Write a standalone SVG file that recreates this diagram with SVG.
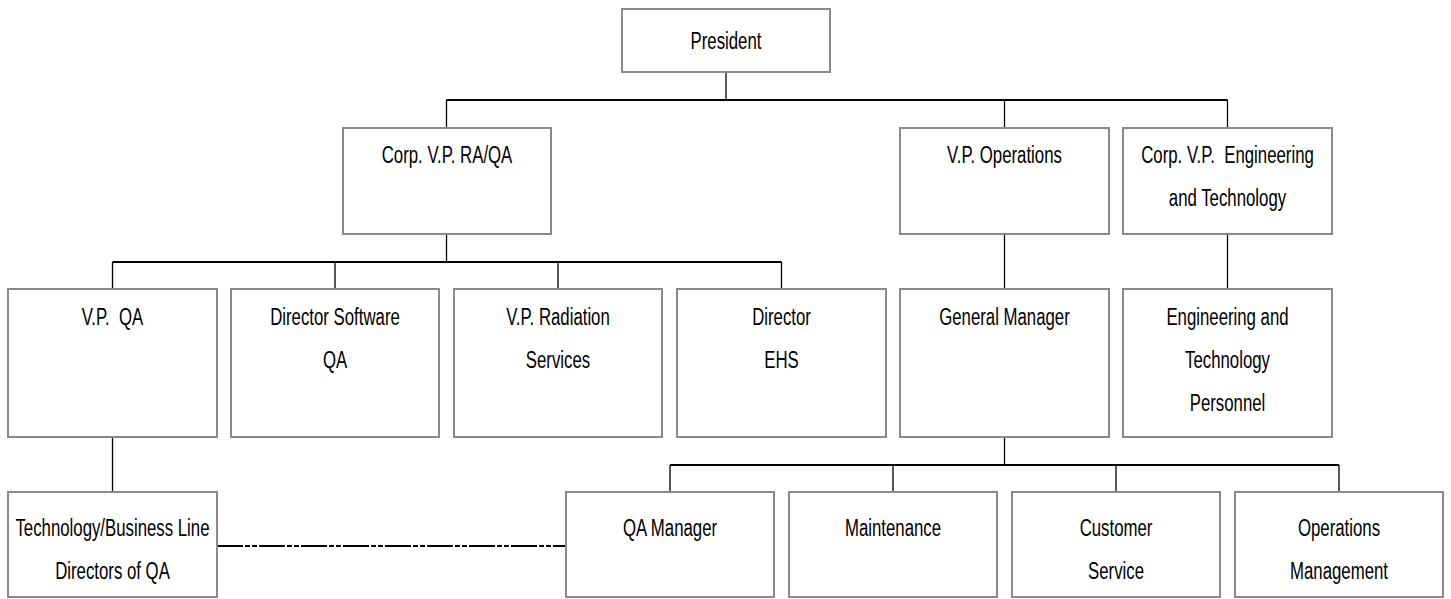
<svg xmlns="http://www.w3.org/2000/svg" width="1451" height="599" viewBox="0 0 1451 599">
<style>
.box{fill:#fff;stroke:#8a8a8a;stroke-width:2}
.t{font-family:"Liberation Sans",Arial,sans-serif;font-size:23px;fill:#000;text-anchor:middle}
.bus{stroke:#000;stroke-width:2;fill:none}
.v{stroke:#000;stroke-width:1.3;fill:none}
.dash{stroke:#000;stroke-width:2;fill:none;stroke-dasharray:26 2 5 2 5 2}
</style>
<rect width="1451" height="599" fill="#fff"/>
<g id="connectors">
<path class="v" d="M726 72V100"/>
<path class="bus" d="M446.5 100H1227.5"/>
<path class="v" d="M446.5 100V128M1004.5 100V128M1227.5 100V128"/>
<path class="v" d="M446.5 234V262"/>
<path class="bus" d="M112.5 262H781.5"/>
<path class="v" d="M112.5 262V289M335 262V289M558 262V289M781.5 262V289"/>
<path class="v" d="M1004.5 234V289M1227.5 234V289"/>
<path class="v" d="M1004.5 437V465"/>
<path class="bus" d="M670 465H1339"/>
<path class="v" d="M670 465V492M893 465V492M1116 465V492M1339 465V492"/>
<path class="v" d="M112.5 437V492"/>
<path class="dash" d="M217 546H566"/>
</g>
<g id="president"><rect class="box" x="622" y="9" width="208" height="63"/>
<text class="t" transform="translate(726 49) scale(0.73 1)">President</text></g>
<g id="corp-vp-raqa"><rect class="box" x="343" y="128" width="208" height="106"/>
<text class="t" transform="translate(447 163) scale(0.73 1)">Corp. V.P. RA/QA</text></g>
<g id="vp-operations"><rect class="box" x="900" y="128" width="209" height="106"/>
<text class="t" transform="translate(1004.5 163) scale(0.73 1)">V.P. Operations</text></g>
<g id="corp-vp-eng"><rect class="box" x="1123" y="128" width="209" height="106"/>
<text class="t" xml:space="preserve" transform="translate(1227.5 163) scale(0.73 1)">Corp. V.P.  Engineering</text>
<text class="t" transform="translate(1227.5 206) scale(0.73 1)">and Technology</text></g>
<g id="vp-qa"><rect class="box" x="8" y="289" width="209" height="148"/>
<text class="t" xml:space="preserve" transform="translate(112.5 325) scale(0.73 1)">V.P.  QA</text></g>
<g id="director-software-qa"><rect class="box" x="231" y="289" width="208" height="148"/>
<text class="t" transform="translate(335 325) scale(0.73 1)">Director Software</text>
<text class="t" transform="translate(335 368) scale(0.73 1)">QA</text></g>
<g id="vp-radiation"><rect class="box" x="454" y="289" width="208" height="148"/>
<text class="t" transform="translate(558 325) scale(0.73 1)">V.P. Radiation</text>
<text class="t" transform="translate(558 368) scale(0.73 1)">Services</text></g>
<g id="director-ehs"><rect class="box" x="677" y="289" width="209" height="148"/>
<text class="t" transform="translate(781.5 325) scale(0.73 1)">Director</text>
<text class="t" transform="translate(781.5 368) scale(0.73 1)">EHS</text></g>
<g id="general-manager"><rect class="box" x="900" y="289" width="209" height="148"/>
<text class="t" transform="translate(1004.5 325) scale(0.73 1)">General Manager</text></g>
<g id="eng-tech-personnel"><rect class="box" x="1123" y="289" width="209" height="148"/>
<text class="t" transform="translate(1227.5 325) scale(0.73 1)">Engineering and</text>
<text class="t" transform="translate(1227.5 368) scale(0.73 1)">Technology</text>
<text class="t" transform="translate(1227.5 411) scale(0.73 1)">Personnel</text></g>
<g id="tech-business-directors"><rect class="box" x="8" y="492" width="209" height="105"/>
<text class="t" transform="translate(112.5 536) scale(0.73 1)">Technology/Business Line</text>
<text class="t" transform="translate(112.5 579) scale(0.73 1)">Directors of QA</text></g>
<g id="qa-manager"><rect class="box" x="566" y="492" width="208" height="105"/>
<text class="t" transform="translate(670 536) scale(0.73 1)">QA Manager</text></g>
<g id="maintenance"><rect class="box" x="789" y="492" width="208" height="105"/>
<text class="t" transform="translate(893 536) scale(0.73 1)">Maintenance</text></g>
<g id="customer-service"><rect class="box" x="1012" y="492" width="208" height="105"/>
<text class="t" transform="translate(1116 536) scale(0.73 1)">Customer</text>
<text class="t" transform="translate(1116 579) scale(0.73 1)">Service</text></g>
<g id="operations-management"><rect class="box" x="1235" y="492" width="208" height="105"/>
<text class="t" transform="translate(1339 536) scale(0.73 1)">Operations</text>
<text class="t" transform="translate(1339 579) scale(0.73 1)">Management</text></g>
</svg>
